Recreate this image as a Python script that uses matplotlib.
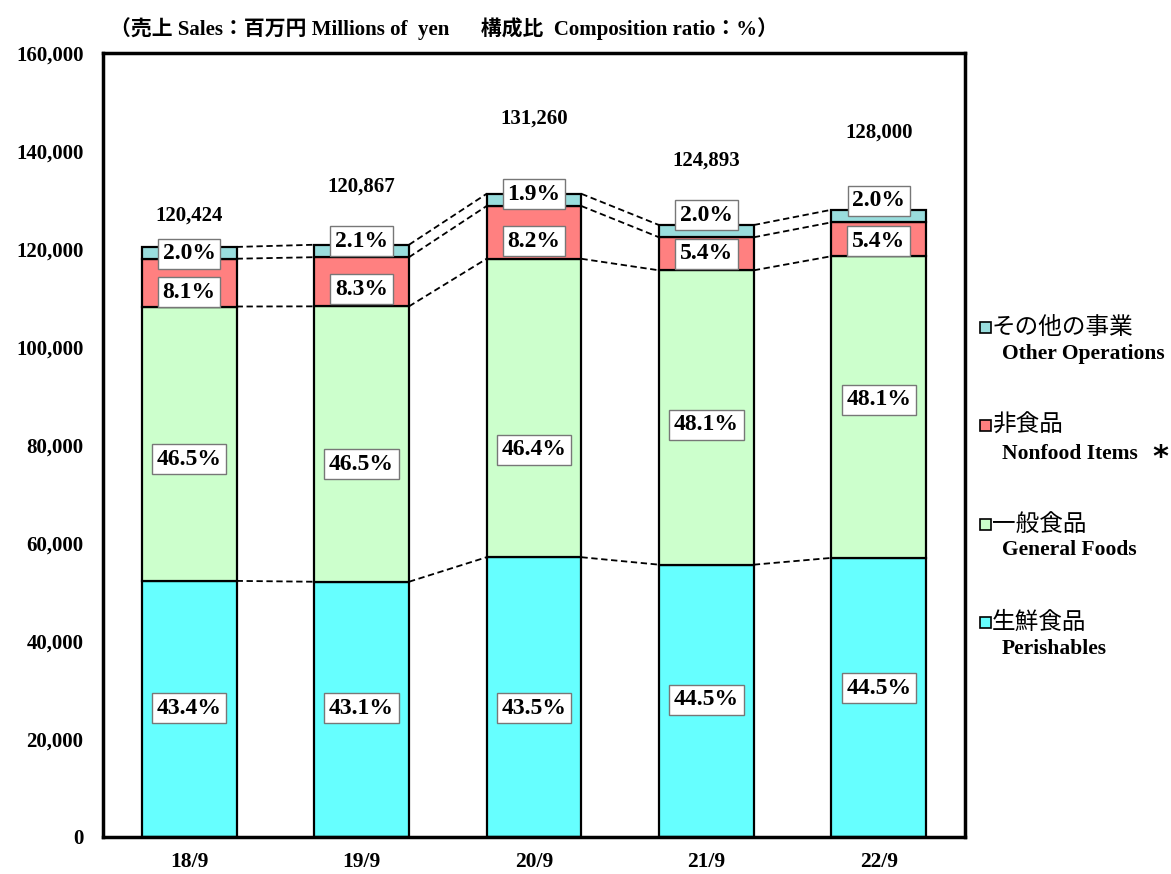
import matplotlib
matplotlib.use("Agg")
import matplotlib.pyplot as plt
from matplotlib.patches import Rectangle

# ---------------- data ----------------
periods = ["18/9", "19/9", "20/9", "21/9", "22/9"]
totals = [120424, 120867, 131260, 124893, 128000]
pct_perishables = [43.4, 43.1, 43.5, 44.5, 44.5]
pct_general = [46.5, 46.5, 46.4, 48.1, 48.1]
pct_nonfood = [8.1, 8.3, 8.2, 5.4, 5.4]
pct_other = [2.0, 2.1, 1.9, 2.0, 2.0]
yticks = [0, 20000, 40000, 60000, 80000, 100000, 120000, 140000, 160000]

series_names = [("生鮮食品", "Perishables"), ("一般食品", "General Foods"),
                ("非食品", "Nonfood Items"), ("その他の事業", "Other Operations")]
colors = ["#66FFFF", "#CCFFCC", "#FF8080", "#99DDDD"]

# label positions (layout, data units)
lab_y_per = [26300, 26300, 26300, 28000, 30400]
lab_y_gen = [77100, 76100, 79000, 84100, 89200]
lab_y_non = [111200, 111800, 121600, 119000, 121600]
lab_y_oth = [119000, 121600, 131200, 126900, 129800]
lab_y_tot = [126900, 132700, 146700, 138000, 143700]

FONT = ["Liberation Serif", "Noto Sans CJK JP"]
plt.rcParams["font.family"] = FONT

fig = plt.figure(figsize=(11.71, 8.74), dpi=100)
W, H = 1171, 874
ax = fig.add_axes([103 / W, 1 - 837 / H, (965 - 103) / W, (837 - 53) / H])

pcts = [pct_perishables, pct_general, pct_nonfood, pct_other]
x = list(range(len(periods)))
bw = 0.55
bottoms = [0.0] * len(periods)
tops_list = []
for p, c in zip(pcts, colors):
    vals = [t * v / 100.0 for t, v in zip(totals, p)]
    ax.bar(x, vals, bw, bottom=bottoms, color=c, edgecolor="black", linewidth=1.6, zorder=2)
    bottoms = [b + v for b, v in zip(bottoms, vals)]
    tops_list.append(list(bottoms))

# dashed connectors
for tops in tops_list:
    for i in range(len(x) - 1):
        ax.plot([x[i] + bw / 2, x[i + 1] - bw / 2], [tops[i], tops[i + 1]],
                ls=(0, (3.5, 2)), color="black", lw=1.3, zorder=1)

box = dict(boxstyle="square,pad=0.2", facecolor="white", edgecolor="#777777", lw=1.0)
for p, ys in zip(pcts, [lab_y_per, lab_y_gen, lab_y_non, lab_y_oth]):
    for i in x:
        ax.text(x[i], ys[i], f"{p[i]:.1f}%", ha="center", va="center",
                fontsize=17, fontweight="bold", bbox=box, zorder=4)

for i in x:
    ax.text(x[i], lab_y_tot[i], f"{totals[i]:,}", ha="center", va="center",
            fontsize=15, fontweight="bold", zorder=4)

ax.set_xlim(-0.5, len(periods) - 0.5)
ax.set_ylim(0, 160000)
ax.set_yticks(yticks)
ax.set_yticklabels([f"{v:,}" for v in yticks], fontsize=15, fontweight="bold")
ax.set_xticks(x)
ax.set_xticklabels(periods, fontsize=15.5, fontweight="bold")
ax.tick_params(axis="y", length=0, pad=14)
ax.tick_params(axis="x", length=0, pad=11)
for s in ax.spines.values():
    s.set_linewidth(2.5)

fig.text(110 / W, 1 - 29 / H,
         "（売上 Sales：百万円 Millions of  yen　  構成比  Composition ratio：%）",
         ha="left", va="center", fontsize=15, fontweight="bold")

# legend
leg_rows = [(328, 354, 3), (426, 454, 2), (525, 550, 1), (623, 649, 0)]
for yj, ye, k in leg_rows:
    fig.patches.append(Rectangle((980 / W, 1 - (yj + 5) / H), 11 / W, 11 / H,
                                 transform=fig.transFigure, facecolor=colors[k],
                                 edgecolor="black", lw=1.2))
    fig.text(992 / W, 1 - yj / H, series_names[k][0], ha="left", va="center",
             fontsize=17)
    en = series_names[k][1]
    fig.text(1002 / W, 1 - ye / H, en, ha="left", va="center",
             fontsize=15.5, fontweight="bold")
fig.text(1152 / W, 1 - 458 / H, "*", ha="left", va="center", fontsize=22,
         fontweight="bold", family="DejaVu Sans")

fig.savefig("out.png", dpi=100)
